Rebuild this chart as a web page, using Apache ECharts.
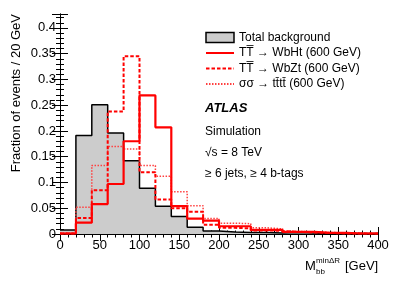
<!DOCTYPE html>
<html><head><meta charset="utf-8">
<script src="https://cdn.jsdelivr.net/npm/echarts@6/dist/echarts.min.js"></script>
<style>html,body{margin:0;padding:0;background:#fff}#c{width:399px;height:286px}</style>
</head><body><div id="c"></div>
<script>
// bin lower edges (GeV), 20 GeV bins
const binEdges = [0,20,40,60,80,100,120,140,160,180,200,220,240,260,280,300,320,340,360,380,400];
const background = [0.008,0.191,0.251,0.196,0.142,0.089,0.054,0.034,0.013,0.006,0.004,0.003,0.003,0.002,0.003,0.002,0.001,0.001,0.001,0.001];
const wbht = [0.001,0.022,0.058,0.097,0.180,0.269,0.207,0.054,0.030,0.026,0.015,0.015,0.008,0.008,0.004,0.004,0.002,0.002,0.001,0.001];
const wbzt = [0.001,0.031,0.085,0.238,0.345,0.120,0.067,0.050,0.043,0.018,0.012,0.011,0.007,0.006,0.004,0.003,0.002,0.001,0.001,0.001];
const tttt = [0.002,0.052,0.133,0.170,0.165,0.133,0.112,0.082,0.055,0.030,0.021,0.020,0.012,0.010,0.005,0.004,0.003,0.002,0.002,0.001];
const xTicks = [0,50,100,150,200,250,300,350,400];
const yTicks = [0,0.05,0.1,0.15,0.2,0.25,0.3,0.35,0.4];
const names = ['Total background','TT\u0305 \u2192 WbHt (600 GeV)','TT\u0305 \u2192 WbZt (600 GeV)','\u03c3\u03c3 \u2192 tt\u0304tt\u0304 (600 GeV)'];

function steps(vals){
  const d = vals.map((v,i)=>[binEdges[i], v]);
  d.push([binEdges[binEdges.length-1], vals[vals.length-1]]);
  return d;
}
const FONT = '"Liberation Sans", Arial, sans-serif';
const chart = echarts.init(document.getElementById('c'), null, {renderer:'canvas'});
const axisCommon = {
  axisLine:{show:true,lineStyle:{color:'#000',width:1}},
  splitLine:{show:false},
  minorSplitLine:{show:false}
};
const xBase = Object.assign({}, axisCommon, {type:'value', min:0, max:400, interval:50,
  axisTick:{show:true,inside:true,length:7,lineStyle:{color:'#000'}},
  minorTick:{show:true,splitNumber:5,length:3.5,lineStyle:{color:'#000'}}});
const yBase = Object.assign({}, axisCommon, {type:'value', min:0, max:0.427, interval:0.05,
  axisTick:{show:true,inside:true,length:8,lineStyle:{color:'#000'}},
  minorTick:{show:true,splitNumber:5,length:4,lineStyle:{color:'#000'}}});

chart.setOption({
  animation:false,
  grid:{left:60,right:21,top:14,bottom:52,containLabel:false},
  xAxis:[
    Object.assign({}, xBase, {position:'bottom',
      axisLabel:{show:true,color:'#000',fontFamily:FONT,fontSize:13,margin:5,
        formatter:v=>xTicks.includes(v)?String(v):''}}),
    Object.assign({}, xBase, {position:'top',axisLabel:{show:false}})
  ],
  yAxis:[
    Object.assign({}, yBase, {position:'left',
      axisLabel:{show:true,color:'#000',fontFamily:FONT,fontSize:13,margin:4,showMaxLabel:false,
        formatter:v=>{const t=yTicks.find(k=>Math.abs(k-v)<1e-6);return t===undefined?'':String(t);}}}),
    Object.assign({}, yBase, {position:'right',axisLabel:{show:false}})
  ],
  legend:{
    orient:'vertical', left:205, top:31.5, padding:0, itemWidth:28, itemHeight:10, itemGap:3.5,
    textStyle:{fontFamily:FONT,fontSize:12,color:'#000'},
    data:[
      {name:names[0], icon:'rect', itemStyle:{color:'#cccccc',borderColor:'#000',borderWidth:1.5}},
      {name:names[1], itemStyle:{opacity:0}},
      {name:names[2], itemStyle:{opacity:0}},
      {name:names[3], itemStyle:{opacity:0}}
    ]
  },
  series:[
    {name:names[0], type:'line', step:'end', symbol:'none', data:steps(background),
      lineStyle:{color:'#000',width:1.5}, itemStyle:{color:'#cccccc'},
      areaStyle:{color:'#cccccc',opacity:1}, z:1},
    {name:names[3], type:'line', step:'end', symbol:'none', data:steps(tttt),
      lineStyle:{color:'#ff4040',width:1.5,type:[1.5,1.5]}, itemStyle:{color:'#ff4040'}, z:2},
    {name:names[2], type:'line', step:'end', symbol:'none', data:steps(wbzt),
      lineStyle:{color:'#ff0000',width:2,type:[3.5,2]}, itemStyle:{color:'#ff0000'}, z:3},
    {name:names[1], type:'line', step:'end', symbol:'none', data:steps(wbht),
      lineStyle:{color:'#ff0000',width:2.2}, itemStyle:{color:'#ff0000'}, z:4}
  ],
  graphic:[
    {type:'text', left:205, top:102, style:{text:'ATLAS', font:'italic bold 13px '+FONT, fill:'#000'}},
    {type:'text', left:205, top:126, style:{text:'Simulation', font:'12px '+FONT, fill:'#000'}},
    {type:'text', left:205, top:147, style:{text:'\u221as = 8 TeV', font:'12px '+FONT, fill:'#000'}},
    {type:'text', left:205, top:168, style:{text:'\u2265 6 jets, \u2265 4 b-tags', font:'12px '+FONT, fill:'#000'}},
    {type:'text', x:16, y:14, rotation:Math.PI/2, style:{text:'Fraction of events / 20 GeV', font:'13px '+FONT, fill:'#000', align:'right', verticalAlign:'middle'}},
    {type:'text', left:305, top:260, style:{text:'M', font:'13px '+FONT, fill:'#000'}},
    {type:'text', left:316, top:257, style:{text:'min\u0394R', font:'8px '+FONT, fill:'#000'}},
    {type:'text', left:316, top:268, style:{text:'bb', font:'8px '+FONT, fill:'#000'}},
    {type:'text', left:345, top:260, style:{text:'[GeV]', font:'13px '+FONT, fill:'#000'}}
  ]
});
</script></body></html>
